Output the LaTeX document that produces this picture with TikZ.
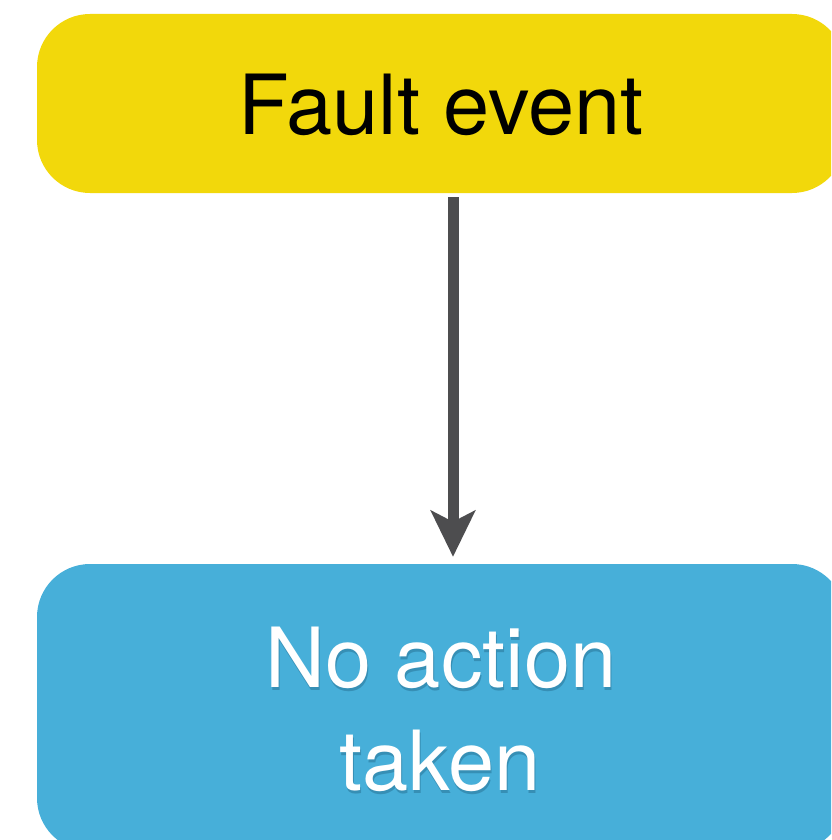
\documentclass[tikz,border=0pt]{standalone}
\usepackage{fontspec}
\setmainfont{TeX Gyre Heros}
\usetikzlibrary{arrows.meta}
\definecolor{faultyellow}{HTML}{F2D80B}
\definecolor{actionblue}{HTML}{47AFD9}
\definecolor{shadowblue}{HTML}{1E5F80}
\definecolor{arrowgrey}{HTML}{4D4D4F}
\tikzset{
  x=1pt, y=-1pt,
  box/.style={rectangle, rounded corners=53pt, inner sep=0pt},
  bigtext/.style={font=\fontsize{83}{103}\selectfont, inner sep=0pt, anchor=base},
  dropshadow/.style={bigtext, text=shadowblue, opacity=0.4},
  flow/.style={draw=arrowgrey, line width=11pt,
    -{Stealth[length=46pt, width=44pt, inset=11pt]}},
}
\begin{document}
\begin{tikzpicture}
  \useasboundingbox (0,0) rectangle (831,840);
  \clip (0,0) rectangle (831,840);
  % the two boxes
  \node[box, fill=faultyellow, minimum width=808pt, minimum height=179pt]
    (fault) at (441,103.5) {};
  \node[box, fill=actionblue, minimum width=808pt, minimum height=287pt]
    (noaction) at (441,707.5) {};
  % labels
  \node[bigtext, text=black] (faulttext) at (441,135) {Fault event};
  \node[dropshadow] (shadow1) at (442,690) {No action};
  \node[dropshadow] (shadow2) at (441,793) {taken};
  \node[bigtext, text=white] (line1) at (441,687) {No action};
  \node[bigtext, text=white] (line2) at (440,790) {taken};
  % connector
  \draw[flow] ([xshift=12pt, yshift=-4pt]fault.south) -- ([xshift=12pt, yshift=7pt]noaction.north);
\end{tikzpicture}
\end{document}
